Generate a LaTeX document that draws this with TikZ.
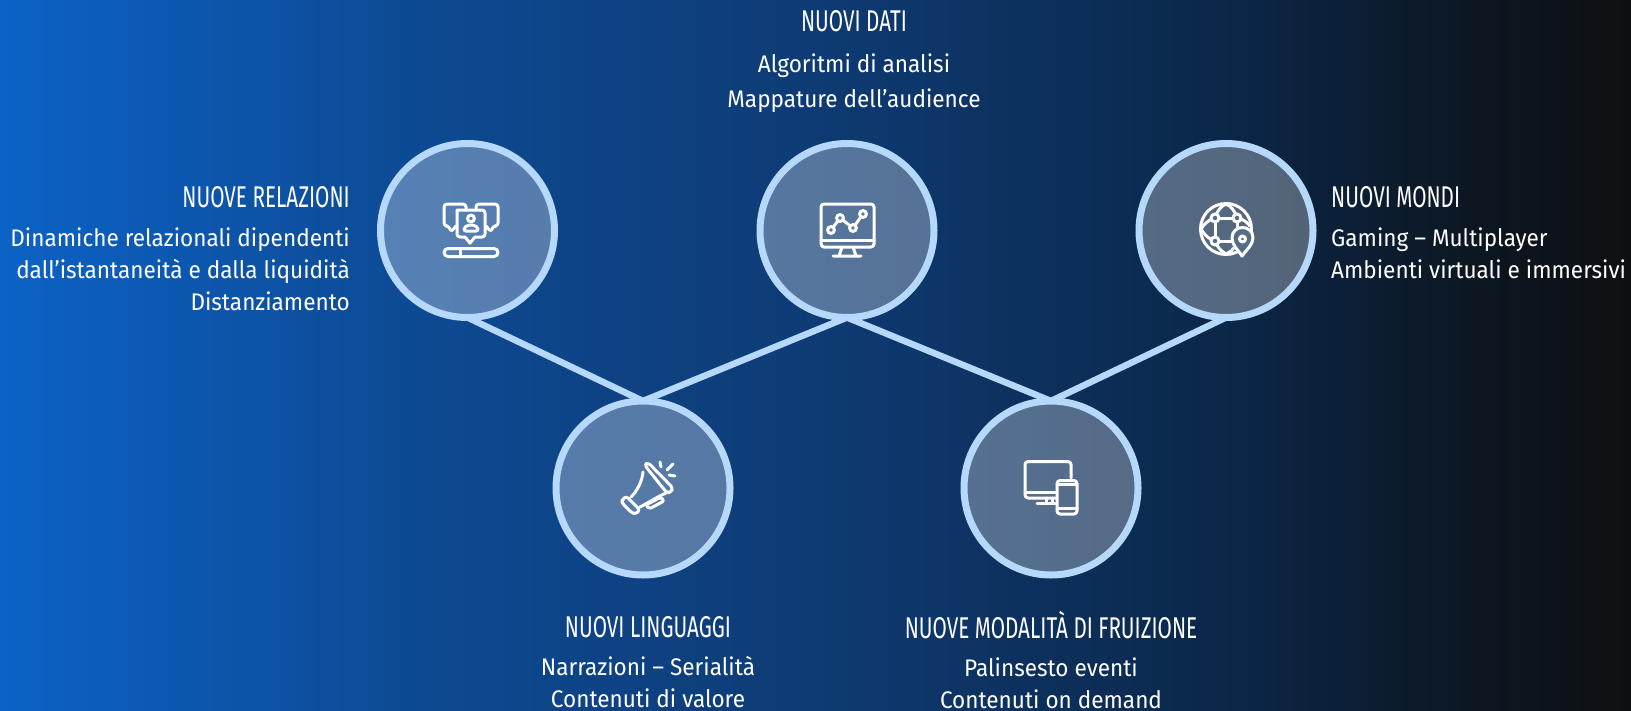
\documentclass[tikz,border=0pt]{standalone}
\usepackage{fontspec}
\setmainfont[FakeStretch=0.94]{Fira Sans}
\newfontfamily\headfont[FakeStretch=0.69]{Fira Sans}
\definecolor{ringblue}{HTML}{B5D8FB}
\definecolor{pinfill}{HTML}{566D88}
\definecolor{midfill}{HTML}{55779C}
\definecolor{c0}{HTML}{0C62C6}
\definecolor{c1}{HTML}{0D4A94}
\definecolor{c2}{HTML}{0E3B74}
\definecolor{c3}{HTML}{0B2749}
\definecolor{c4}{HTML}{0C1722}
\definecolor{c5}{HTML}{0E0F12}
\pgfdeclarehorizontalshading{bggrad}{100bp}{
 color(0bp)=(c0); color(25bp)=(c0); color(37.5bp)=(c1); color(50bp)=(c2); color(62.5bp)=(c3); color(70bp)=(c4); color(75bp)=(c5); color(100bp)=(c5)}
\tikzset{
 hub/.style={circle,draw=ringblue,line width=7pt,fill=white,fill opacity=.3,draw opacity=1,minimum size=174pt,inner sep=0pt,outer sep=0pt},
 link/.style={draw=ringblue,line width=6.5pt},
 ico/.style={draw=white,line width=3pt,line cap=round,line join=round},
 head/.style={text=white,font=\headfont\fontsize{30}{36}\selectfont,inner sep=0pt},
 body/.style={text=white,font=\fontsize{24}{32}\selectfont,inner sep=0pt}
}
\begin{document}
\begin{tikzpicture}[x=1pt,y=-1pt]
\useasboundingbox (0,0) rectangle (1631,710);
\shade[shading=bggrad] (0,0) rectangle (1631,710);
% hubs
\node[hub] (h1) at (467.5,230.5) {};
\node[hub] (h2) at (847,230.5) {};
\node[hub] (h3) at (1226,230.5) {};
\node[hub] (h4) at (643,488) {};
\node[hub] (h5) at (1051,488) {};
\draw[link] (h1.south) -- (h4.north);
\draw[link] (h4.north) -- (h2.south);
\draw[link] (h2.south) -- (h5.north);
\draw[link] (h5.north) -- (h3.south);
% labels
\node[head,anchor=east] (t1) at (350,197) {NUOVE RELAZIONI};
\node[body,anchor=east,align=right] (b1) at (350,269) {Dinamiche relazionali dipendenti\\dall’istantaneità e dalla liquidità\\Distanziamento};
\node[head] (t2) at (854,21) {NUOVI DATI};
\node[body,align=center] (b2) at (854,83.5) {Algoritmi di analisi\\[3pt]Mappature dell’audience};
\node[head,anchor=west] (t3) at (1331,197) {NUOVI MONDI};
\node[body,anchor=west,align=left] (b3) at (1331,253) {Gaming – Multiplayer\\Ambienti virtuali e immersivi};
\node[head] (t4) at (648,627) {NUOVI LINGUAGGI};
\node[body,align=center] (b4) at (648,682) {Narrazioni – Serialità\\Contenuti di valore};
\node[head] (t5) at (1051,625) {NUOVE MODALITÀ DI FRUIZIONE};
\node[body,align=center] (b5) at (1051,683) {Palinsesto eventi\\Contenuti on demand};
% icon 1
\draw[ico,rounded corners=3pt] (466,210)--(466,204)--(444,204)--(444,226)--(449,226)--(451,232)--(456,226);
\draw[ico,rounded corners=3pt] (476,210)--(476,204)--(498,204)--(498,226)--(493,226)--(491,232)--(486,226);
\draw[ico,rounded corners=3pt] (457,210)--(485,210)--(485,237)--(475,237);
\draw[ico] (475,237)--(470,243)--(465,237);
\draw[ico,rounded corners=3pt] (465,237)--(457,237)--(457,210);
\draw[ico] (471,218.5) circle (3.4);
\draw[ico,rounded corners=2pt] (464,231)--(464,227)--(471,224.5)--(478,227)--(478,231)--cycle;
\draw[ico,rounded corners=4pt] (444,248.5) rectangle (498,256.5);
\draw[ico] (460,249)--(460,256);
% icon 2
\draw[ico,rounded corners=3pt] (821,204) rectangle (874,247);
\draw[ico] (821,240)--(874,240);
\draw[ico] (842,247)--(839,256) (853,247)--(856,256) (833,256)--(861,256);
\draw[ico] (831,230)--(840,218)--(853,228)--(863,214);
\foreach \p in {(831,230),(840,218),(853,228),(863,214)} \draw[ico,fill=midfill] \p circle (3.4);
% icon 3
\draw[ico] (1226,229) circle (25.5);
\draw[ico] (1215,218)--(1237,218)--(1237,235) (1215,218)--(1215,241)--(1232,241);
\draw[ico] (1215,218) .. controls (1217,211) and (1221,206) .. (1226,204) .. controls (1231,206) and (1235,211) .. (1237,218);
\draw[ico] (1215,218) .. controls (1208,220) and (1204,224) .. (1201,229) .. controls (1204,234) and (1208,239) .. (1215,241);
\draw[ico] (1215,241) .. controls (1217,247) and (1221,251) .. (1226,254) .. controls (1230,252) and (1233,250) .. (1235,247);
\draw[ico] (1237,218) .. controls (1243,219) and (1247,222) .. (1250,226);
\foreach \p in {(1215,218),(1237,218),(1215,241)} \draw[ico,fill=pinfill] \p circle (4);
\draw[ico,fill=pinfill] (1242,256) .. controls (1238,250) and (1232,245) .. (1232,238) .. controls (1232,224) and (1253,224) .. (1253,238) .. controls (1253,245) and (1246,250) .. (1242,256) -- cycle;
\draw[ico] (1242.5,239) circle (3);
% icon 4
\draw[ico,rounded corners=3pt] (644.5,465)--(648,462.5)--(673,488)--(671,492)--(667,493)--cycle;
\draw[ico,rounded corners=3pt] (622,500)--(626,496)--(640,510)--(636,514)--(632,513)--(622,503)--cycle;
\draw[ico] (643,472) .. controls (642,482) and (637,491) .. (631,497);
\draw[ico] (666,493) .. controls (657,497) and (648,503) .. (640,507);
\draw[ico,rounded corners=2pt] (646,505)--(661,497)--(664,501)--(649,509)--cycle;
\draw[ico] (660,462)--(661,467) (673,464)--(667,470) (669,475)--(675,476);
% icon 5
\draw[ico,rounded corners=3pt] (1071,478)--(1071,461.5)--(1025,461.5)--(1025,498)--(1056,498);
\draw[ico] (1025,492)--(1056,492);
\draw[ico] (1037,503)--(1055,503) (1046,498)--(1046,503) (1052,498)--(1052,503);
\draw[ico,rounded corners=3pt] (1057,480.5) rectangle (1077,514);
\draw[ico] (1057,484)--(1077,484) (1057,508)--(1077,508);
\end{tikzpicture}
\end{document}
